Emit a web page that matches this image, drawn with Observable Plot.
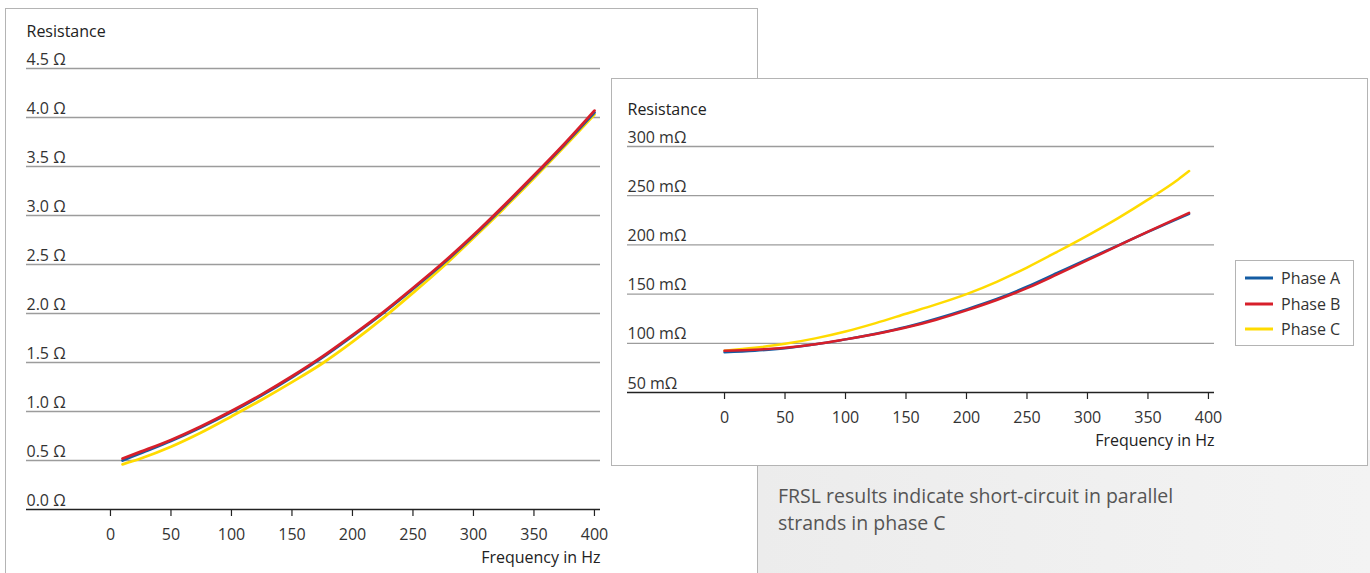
<!DOCTYPE html>
<html>
<head>
<meta charset="utf-8">
<script src="https://cdn.jsdelivr.net/npm/d3@7"></script>
<script src="https://cdn.jsdelivr.net/npm/@observablehq/plot@0.6"></script>
<style>
  html, body { margin: 0; padding: 0; background: #fff; }
  body { width: 1370px; height: 573px; position: relative; overflow: hidden; font-family: "Open Sans", sans-serif; color: #333; }
  .abs { position: absolute; }
  #panelL { left: 5px; top: 8px; width: 753px; height: 620px; border: 1.5px solid #b4b4b4; background: #fff; box-sizing: border-box; }
  #grey { left: 757px; top: 440px; width: 613px; height: 140px; background: linear-gradient(90deg, #ececec, #f3f3f3); border-left: 1.5px solid #b4b4b4; box-sizing: border-box; }
  #panelR { left: 611px; top: 78px; width: 757px; height: 388px; border: 1.5px solid #b4b4b4; background: #fff; box-sizing: border-box; }
  #chartL { left: 0; top: 0; }
  #chartR { left: 611px; top: 78px; }
  #legend { left: 1235px; top: 260px; width: 119px; height: 86px; border: 1.5px solid #b4b4b4; background: #fff; box-sizing: border-box; font-size: 16px; }
  .lrow { position: absolute; left: 0; height: 24px; display: flex; align-items: center; }
  .lrow svg { margin-left: 9px; margin-right: 8px; }
  #caption { left: 778px; top: 482px; font-size: 19.5px; line-height: 27px; color: #555; }
</style>
</head>
<body>
<div id="panelL" class="abs"></div>
<div id="chartL" class="abs"></div>
<div id="grey" class="abs"></div>
<div id="panelR" class="abs"></div>
<div id="chartR" class="abs"></div>
<div id="legend" class="abs"></div>
<div id="caption" class="abs"></div>
<script>
// ---- data ----
const phases = ["Phase A", "Phase B", "Phase C"];
const phaseColors = ["#145ca3", "#d71f2a", "#ffdb00"];

const leftFreq = [10, 25, 50, 75, 100, 125, 150, 175, 200, 225, 250, 275, 300, 325, 350, 375, 400];
const leftA = [0.50, 0.575, 0.70, 0.84, 0.995, 1.165, 1.35, 1.55, 1.77, 2.00, 2.25, 2.51, 2.79, 3.09, 3.40, 3.72, 4.05];
const leftB = [0.52, 0.59, 0.71, 0.85, 1.005, 1.175, 1.36, 1.56, 1.78, 2.01, 2.26, 2.52, 2.80, 3.10, 3.41, 3.73, 4.07];
const leftC = [0.46, 0.52, 0.64, 0.785, 0.95, 1.12, 1.30, 1.49, 1.71, 1.95, 2.21, 2.48, 2.77, 3.07, 3.38, 3.70, 4.03];
const leftYTicks = [0, 0.5, 1.0, 1.5, 2.0, 2.5, 3.0, 3.5, 4.0, 4.5];

const rightFreq = [0, 25, 50, 75, 100, 125, 150, 175, 200, 225, 250, 275, 300, 325, 350, 375, 384];
const rightA = [91, 92.5, 95, 99, 104, 109.8, 116.5, 125, 134.5, 145, 157.5, 171.5, 185.5, 199.3, 213.2, 226.8, 231.5];
const rightB = [92.5, 93.5, 95.5, 99, 104, 109.5, 116, 124, 133.5, 144, 156, 170, 184.5, 199, 213.5, 227.5, 232.5];
const rightC = [92.5, 95.5, 99.5, 105, 112, 120.5, 130, 139.5, 150, 162.5, 177, 193, 209.5, 227, 246, 266.5, 275];
const rightYTicks = [50, 100, 150, 200, 250, 300];

const xTicks = [0, 50, 100, 150, 200, 250, 300, 350, 400];
const yTitle = "Resistance";
const xTitle = "Frequency in Hz";
const captionLines = ["FRSL results indicate short-circuit in parallel", "strands in phase C"];

// build long table, drawing order C, A, B
function rowsFrom(freq, a, b, c) {
  const out = [];
  [[phases[2], c], [phases[0], a], [phases[1], b]].forEach(([p, vals]) => {
    freq.forEach((f, i) => out.push({ phase: p, f, v: vals[i] }));
  });
  return out;
}

const FONT = '"Open Sans", sans-serif';

function chart(o) {
  const rows = rowsFrom(o.freq, o.a, o.b, o.c);
  return Plot.plot({
    width: o.width, height: o.height,
    marginLeft: o.ml, marginRight: o.mr, marginTop: o.mt, marginBottom: o.mb,
    style: { fontFamily: FONT, fontSize: "16px", color: "#333", background: "transparent", overflow: "visible" },
    x: { domain: o.xDomain },
    y: { domain: o.yDomain },
    color: { domain: phases, range: phaseColors },
    marks: [
      Plot.ruleY(o.yTicks.filter(d => d !== o.yDomain[0]), { stroke: "#9c9c9c", strokeWidth: 1.3 }),
      Plot.ruleY([o.yDomain[0]], { stroke: "#222", strokeWidth: 1.5 }),
      Plot.axisY({ anchor: "left", ticks: o.yTicks, tickSize: 0, tickPadding: 0, textAnchor: "start", dy: -9, tickFormat: o.yFmt, label: null, fill: "#333" }),
      Plot.axisX({ anchor: "bottom", ticks: xTicks, tickSize: 7, tickPadding: 12, label: null, stroke: "#222", fill: "#333", strokeWidth: 1.2 }),
      Plot.line(rows, { x: "f", y: "v", z: "phase", stroke: "phase", strokeWidth: o.sw, curve: "monotone-x" }),
      Plot.text([yTitle], { frameAnchor: "top-left", textAnchor: "start", lineAnchor: "middle", dy: -37, fill: "#222" }),
      Plot.text([xTitle], { frameAnchor: "bottom-right", textAnchor: "end", lineAnchor: "middle", dy: 48, fill: "#222" })
    ]
  });
}

document.getElementById("chartL").appendChild(chart({
  freq: leftFreq, a: leftA, b: leftB, c: leftC, yTicks: leftYTicks,
  yFmt: d => d.toFixed(1) + " Ω",
  width: 620, height: 573, ml: 26, mr: 20, mt: 68, mb: 64,
  xDomain: [-69.4, 405], yDomain: [0, 4.5], sw: 2.8
}));

document.getElementById("chartR").appendChild(chart({
  freq: rightFreq, a: rightA, b: rightB, c: rightC, yTicks: rightYTicks,
  yFmt: d => d + " mΩ",
  width: 756, height: 387, ml: 16, mr: 153, mt: 68, mb: 73,
  xDomain: [-80.2, 405], yDomain: [50, 300], sw: 2.5
}));

// legend
const leg = document.getElementById("legend");
phases.forEach((p, i) => {
  const row = document.createElement("div");
  row.className = "lrow";
  row.style.top = (5 + i * 25.5) + "px";
  row.innerHTML = `<svg width="28" height="6"><line x1="0" x2="28" y1="3" y2="3" stroke="${phaseColors[i]}" stroke-width="3"/></svg><span>${p}</span>`;
  leg.appendChild(row);
});

document.getElementById("caption").innerHTML = captionLines.join("<br>");
</script>
</body>
</html>
